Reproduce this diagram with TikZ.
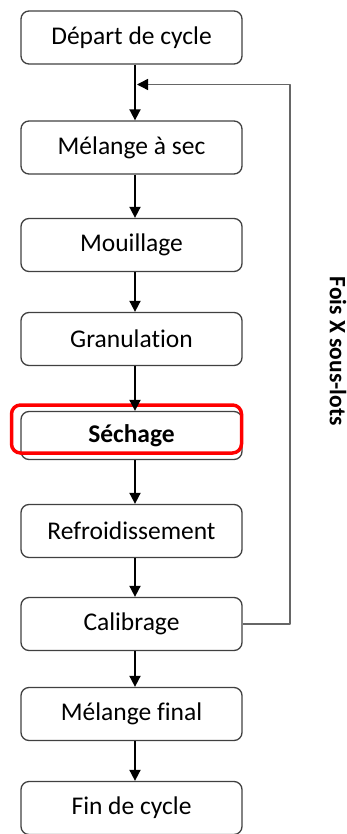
\documentclass[tikz,border=0pt]{standalone}
\usepackage{fontspec}
\setmainfont{Carlito}[Ligatures=NoCommon]
\usetikzlibrary{arrows.meta}

\tikzset{
  etape/.style={draw=black!75, line width=1.3pt, rounded corners=8pt,
    minimum width=221pt, minimum height=53pt, inner sep=0pt,
    font=\fontsize{25.5}{30}\selectfont},
  fleche/.style={line width=1.8pt},
  retour/.style={draw=black!60, line width=1.4pt}
}

\begin{document}
\begin{tikzpicture}[x=1pt, y=1pt, line join=round, >={Triangle[length=11pt,width=11pt]}]
  \useasboundingbox (0,0) rectangle (346,-834);
  \def \xc{131.5} % milieu des cases
  \def \dx{3.5} % decalage des fleches
  % Les etapes
  \foreach \n/\y/\t in {dep/37.5/Départ de cycle, melsec/147.5/Mélange à sec,
      mouil/245/Mouillage, granu/339/Granulation, refroid/531/Refroidissement,
      calib/624/Calibrage, melfin/714/Mélange final, fin/808/Fin de cycle}
    \node[etape] (\n) at (\xc,-\y) {\t};
  \node[etape, minimum height=48pt, font=\fontsize{25.5}{30}\selectfont\bfseries] (sech) at (\xc,-435.5) {Séchage};
  \draw[red, line width=3.5pt, rounded corners=9pt] (11.5,-405) rectangle (241.5,-453);
  % Fleches entre etapes
  \foreach \a/\b in {dep/melsec, melsec/mouil, mouil/granu, granu/sech,
      sech/refroid, refroid/calib, calib/melfin, melfin/fin}
    \draw[fleche, ->] ([xshift=\dx]\a.south) -- ([xshift=\dx]\b.north);
  % Boucle de retour
  \coordinate (coin) at (290,-84.5);
  \coordinate (jonction) at (137,-84.5);
  \draw[retour] (calib.east) -| (coin) -- ([xshift=8pt]jonction);
  \draw[line width=1.4pt, ->] ([xshift=9pt]jonction) -- (jonction);
  \node[rotate=-90, font=\fontsize{23.5}{28}\selectfont\bfseries] (lots) at (338,-351) {Fois X sous-lots};
\end{tikzpicture}
\end{document}
